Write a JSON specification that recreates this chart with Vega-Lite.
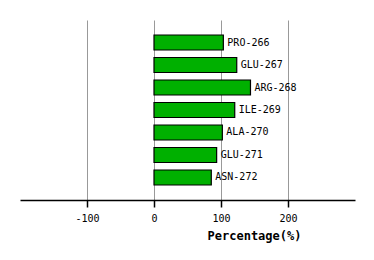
{
  "$schema": "https://vega.github.io/schema/vega-lite/v6.json",
  "autosize": "none",
  "width": 335,
  "height": 180,
  "padding": {"left": 20, "top": 20, "right": 19, "bottom": 60},
  "background": "white",
  "config": {"view": {"stroke": null}},
  "data": {"values": [
    {"residue": "PRO-266", "pct": 103.5},
    {"residue": "GLU-267", "pct": 123.5},
    {"residue": "ARG-268", "pct": 144},
    {"residue": "ILE-269", "pct": 120.5},
    {"residue": "ALA-270", "pct": 102},
    {"residue": "GLU-271", "pct": 93.5},
    {"residue": "ASN-272", "pct": 85.5}
  ]},
  "encoding": {
    "y": {"field": "residue", "type": "nominal", "sort": null,
          "scale": {"paddingInner": 0.333, "paddingOuter": 0.667}, "axis": null},
    "x": {"field": "pct", "type": "quantitative",
          "scale": {"domain": [-200, 300], "nice": false, "zero": false},
          "axis": {"title": "Percentage(%)", "values": [-100, 0, 100, 200],
                   "labelExpr": "datum.value < 0 ? '-' + abs(datum.value) : '' + datum.value",
                   "grid": true, "gridColor": "#999999", "gridOpacity": 1, "gridWidth": 1,
                   "domainColor": "black", "domainWidth": 1.5, "tickColor": "black", "tickSize": 7, "tickWidth": 1.5,
                   "labelFont": "DejaVu Sans Mono", "labelFontSize": 10, "labelColor": "black", "labelPadding": 6,
                   "titleFont": "DejaVu Sans Mono", "titleFontSize": 12, "titleFontWeight": "bold", "titleColor": "black",
                   "titleX": 234, "titleY": 42, "titleAlign": "center", "titleBaseline": "bottom"}}
  },
  "layer": [
    {"mark": {"type": "bar", "color": "#00b000", "stroke": "black", "strokeWidth": 1.2, "orient": "horizontal"},
     "encoding": {"x2": {"datum": 0}}},
    {"mark": {"type": "text", "align": "left", "dx": 4, "font": "DejaVu Sans Mono", "fontSize": 10, "color": "black"},
     "encoding": {"text": {"field": "residue"}}}
  ]
}
